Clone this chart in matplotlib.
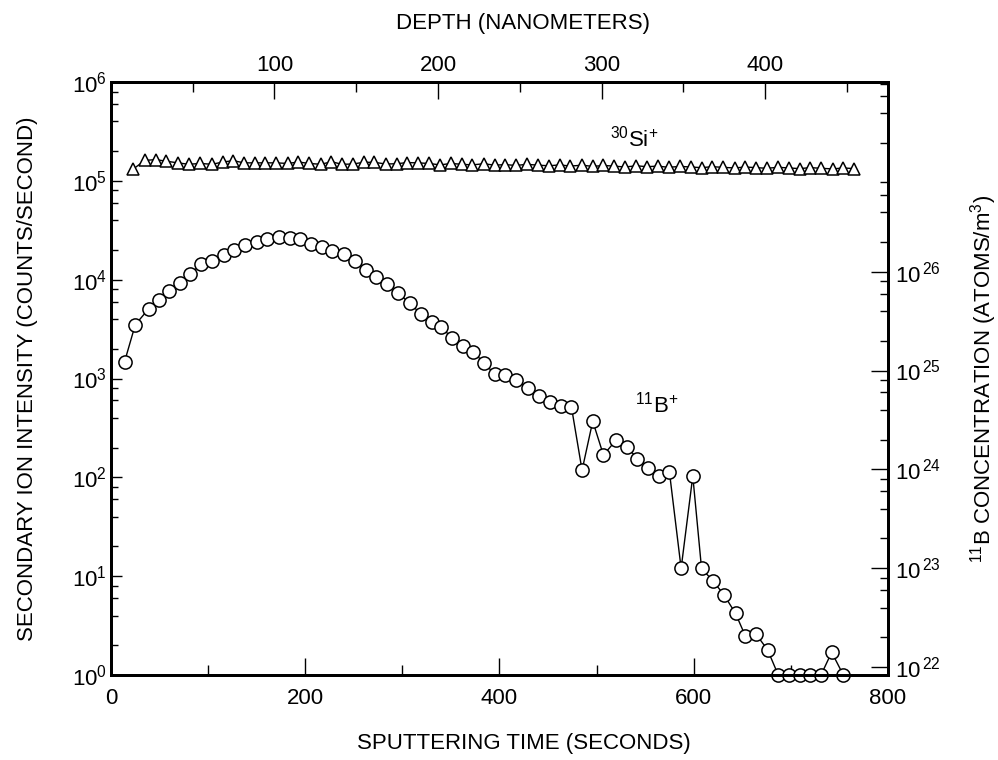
import math
import matplotlib
matplotlib.use("Agg")
import matplotlib.pyplot as plt
from matplotlib.ticker import FixedLocator, LogLocator, MultipleLocator, FuncFormatter, NullFormatter

plt.rcParams["font.family"] = ["Liberation Sans", "DejaVu Sans"]
plt.rcParams["mathtext.fontset"] = "custom"
plt.rcParams["mathtext.rm"] = "Liberation Sans"
plt.rcParams["mathtext.it"] = "Liberation Sans:italic"
plt.rcParams["mathtext.bf"] = "Liberation Sans:bold"
plt.rcParams["mathtext.default"] = "regular"

# conversion factors
NM_PER_SECOND = 0.594
CONC_PER_COUNT = 8.3e21

# 30Si+ matrix signal (counts/s)
si_time = [23, 35, 46, 57, 69, 80, 92, 104, 115, 126, 137, 148, 159, 170, 182,
           193, 204, 216, 227, 238, 249, 260, 271, 283, 294, 305, 316, 327, 339,
           350, 361, 372, 384, 395, 406, 417, 428, 440, 451, 462, 473, 485, 496,
           507, 518, 529, 541, 552, 563, 574, 586, 597, 608, 619, 630, 642, 653,
           664, 675, 687, 698, 709, 720, 731, 743, 754, 765]
si_counts = [1.32e5, 1.61e5, 1.64e5, 1.58e5, 1.52e5, 1.47e5, 1.50e5, 1.47e5,
             1.55e5, 1.60e5, 1.52e5, 1.52e5, 1.52e5, 1.52e5, 1.50e5, 1.55e5,
             1.50e5, 1.47e5, 1.56e5, 1.47e5, 1.48e5, 1.54e5, 1.54e5, 1.48e5,
             1.49e5, 1.53e5, 1.52e5, 1.50e5, 1.45e5, 1.50e5, 1.47e5, 1.45e5,
             1.49e5, 1.44e5, 1.46e5, 1.43e5, 1.47e5, 1.44e5, 1.42e5, 1.45e5,
             1.41e5, 1.44e5, 1.40e5, 1.43e5, 1.41e5, 1.38e5, 1.42e5, 1.39e5,
             1.41e5, 1.37e5, 1.40e5, 1.38e5, 1.36e5, 1.39e5, 1.37e5, 1.35e5,
             1.38e5, 1.36e5, 1.34e5, 1.37e5, 1.35e5, 1.33e5, 1.36e5, 1.34e5,
             1.32e5, 1.35e5, 1.33e5]

# 11B+ implant profile (counts/s)
b_time = [14, 25, 39, 49, 60, 71, 81, 93, 104, 116, 127, 138, 150, 161, 173,
          184, 195, 206, 217, 228, 240, 251, 263, 273, 284, 296, 308, 319, 330,
          340, 351, 362, 373, 384, 395, 406, 417, 429, 441, 452, 463, 474, 485,
          496, 507, 520, 531, 542, 553, 564, 575, 587, 599, 608, 620, 631, 643,
          653, 664, 676, 687, 698, 709, 720, 731, 742, 754]
b_counts = [1480, 3500, 5100, 6200, 7600, 9300, 11300, 14400, 15400, 17600,
            19800, 22400, 24000, 25700, 26900, 26600, 25700, 23200, 21600, 19500,
            18100, 15500, 12400, 10700, 9100, 7250, 5750, 4500, 3750, 3300,
            2590, 2120, 1860, 1440, 1110, 1080, 970, 800, 670, 580,
            530, 520, 118, 370, 168, 238, 204, 155, 123, 104,
            112, 12, 103, 12, 8.9, 6.5, 4.2, 2.5, 2.6, 1.8,
            1.0, 1.0, 1.0, 1.0, 1.0, 1.7, 1.0]


def power_label(v, pos, space=False):
    exp = round(math.log10(v))
    return (r"$10^{\,%d}$" if space else r"$10^{%d}$") % exp


fig = plt.figure(figsize=(9.98, 7.6), dpi=100)
ax = fig.add_axes([0.1112, 0.1118, 0.7786, 0.7803])

ax.plot(si_time, si_counts, color="black", lw=1.0, marker="^", ms=8.5,
        mfc="white", mec="black", mew=1.1, clip_on=False, zorder=3)
ax.plot(b_time, b_counts, color="black", lw=1.0, marker="o", ms=9.5,
        mfc="white", mec="black", mew=1.1, clip_on=False, zorder=3)

ax.set_yscale("log")
ax.set_xlim(0, 800)
ax.set_ylim(1, 1e6)

ax.xaxis.set_major_locator(MultipleLocator(200))
ax.xaxis.set_minor_locator(MultipleLocator(100))
ax.yaxis.set_major_locator(FixedLocator([10.0 ** k for k in range(7)]))
ax.yaxis.set_minor_locator(LogLocator(base=10, subs=(2, 4, 6, 8)))
ax.yaxis.set_minor_formatter(NullFormatter())
ax.yaxis.set_major_formatter(FuncFormatter(power_label))

ax.tick_params(axis="x", which="major", direction="in", length=12, width=1,
               labelsize=16, pad=9)
ax.tick_params(axis="x", which="minor", direction="in", length=7, width=1)
ax.tick_params(axis="y", which="major", direction="in", length=8, width=1,
               labelsize=16, pad=3)
ax.tick_params(axis="y", which="minor", direction="in", length=5, width=1)

# top axis: depth
axt = ax.twiny()
axt.set_xlim(0, 800 * NM_PER_SECOND)
axt.xaxis.set_major_locator(MultipleLocator(100))
axt.xaxis.set_minor_locator(MultipleLocator(50))
axt.xaxis.set_major_formatter(FuncFormatter(lambda v, p: "" if v == 0 else "%d" % v))
axt.tick_params(axis="x", which="major", direction="in", length=12, width=1,
                labelsize=16, pad=4)
axt.tick_params(axis="x", which="minor", direction="in", length=7, width=1)

# right axis: boron concentration
axr = ax.twinx()
axr.set_yscale("log")
axr.set_ylim(1 * CONC_PER_COUNT, 1e6 * CONC_PER_COUNT)
axr.yaxis.set_major_locator(FixedLocator([1e22, 1e23, 1e24, 1e25, 1e26]))
axr.yaxis.set_minor_locator(LogLocator(base=10, subs=(2, 4, 6, 8)))
axr.yaxis.set_minor_formatter(NullFormatter())
axr.yaxis.set_major_formatter(FuncFormatter(lambda v, p: power_label(v, p, space=True)))
axr.tick_params(axis="y", which="major", direction="in", length=12, width=1,
                labelsize=16, pad=5)
axr.tick_params(axis="y", which="minor", direction="in", length=6, width=1)

for a in (ax, axt, axr):
    for s in a.spines.values():
        s.set_linewidth(2)

ax.set_xlabel("SPUTTERING TIME (SECONDS)", fontsize=16)
ax.xaxis.set_label_coords(0.532, -0.097)
ax.set_ylabel("SECONDARY ION INTENSITY (COUNTS/SECOND)", fontsize=16)
ax.yaxis.set_label_coords(-0.094, 0.5)
axt.set_xlabel("DEPTH (NANOMETERS)", fontsize=16)
axt.xaxis.set_label_coords(0.53, 1.09)
axr.set_ylabel(r"$^{11}$B CONCENTRATION (ATOMS/m$^3$)", fontsize=16)
axr.yaxis.set_label_coords(1.103, 0.5)

ax.text(514, 2.7e5, r"$^{30}$Si$^{+}$", fontsize=16, ha="left", va="center")
ax.text(540, 540, r"$^{11}$B$^{+}$", fontsize=16, ha="left", va="center")

fig.savefig("out.png", dpi=100)
